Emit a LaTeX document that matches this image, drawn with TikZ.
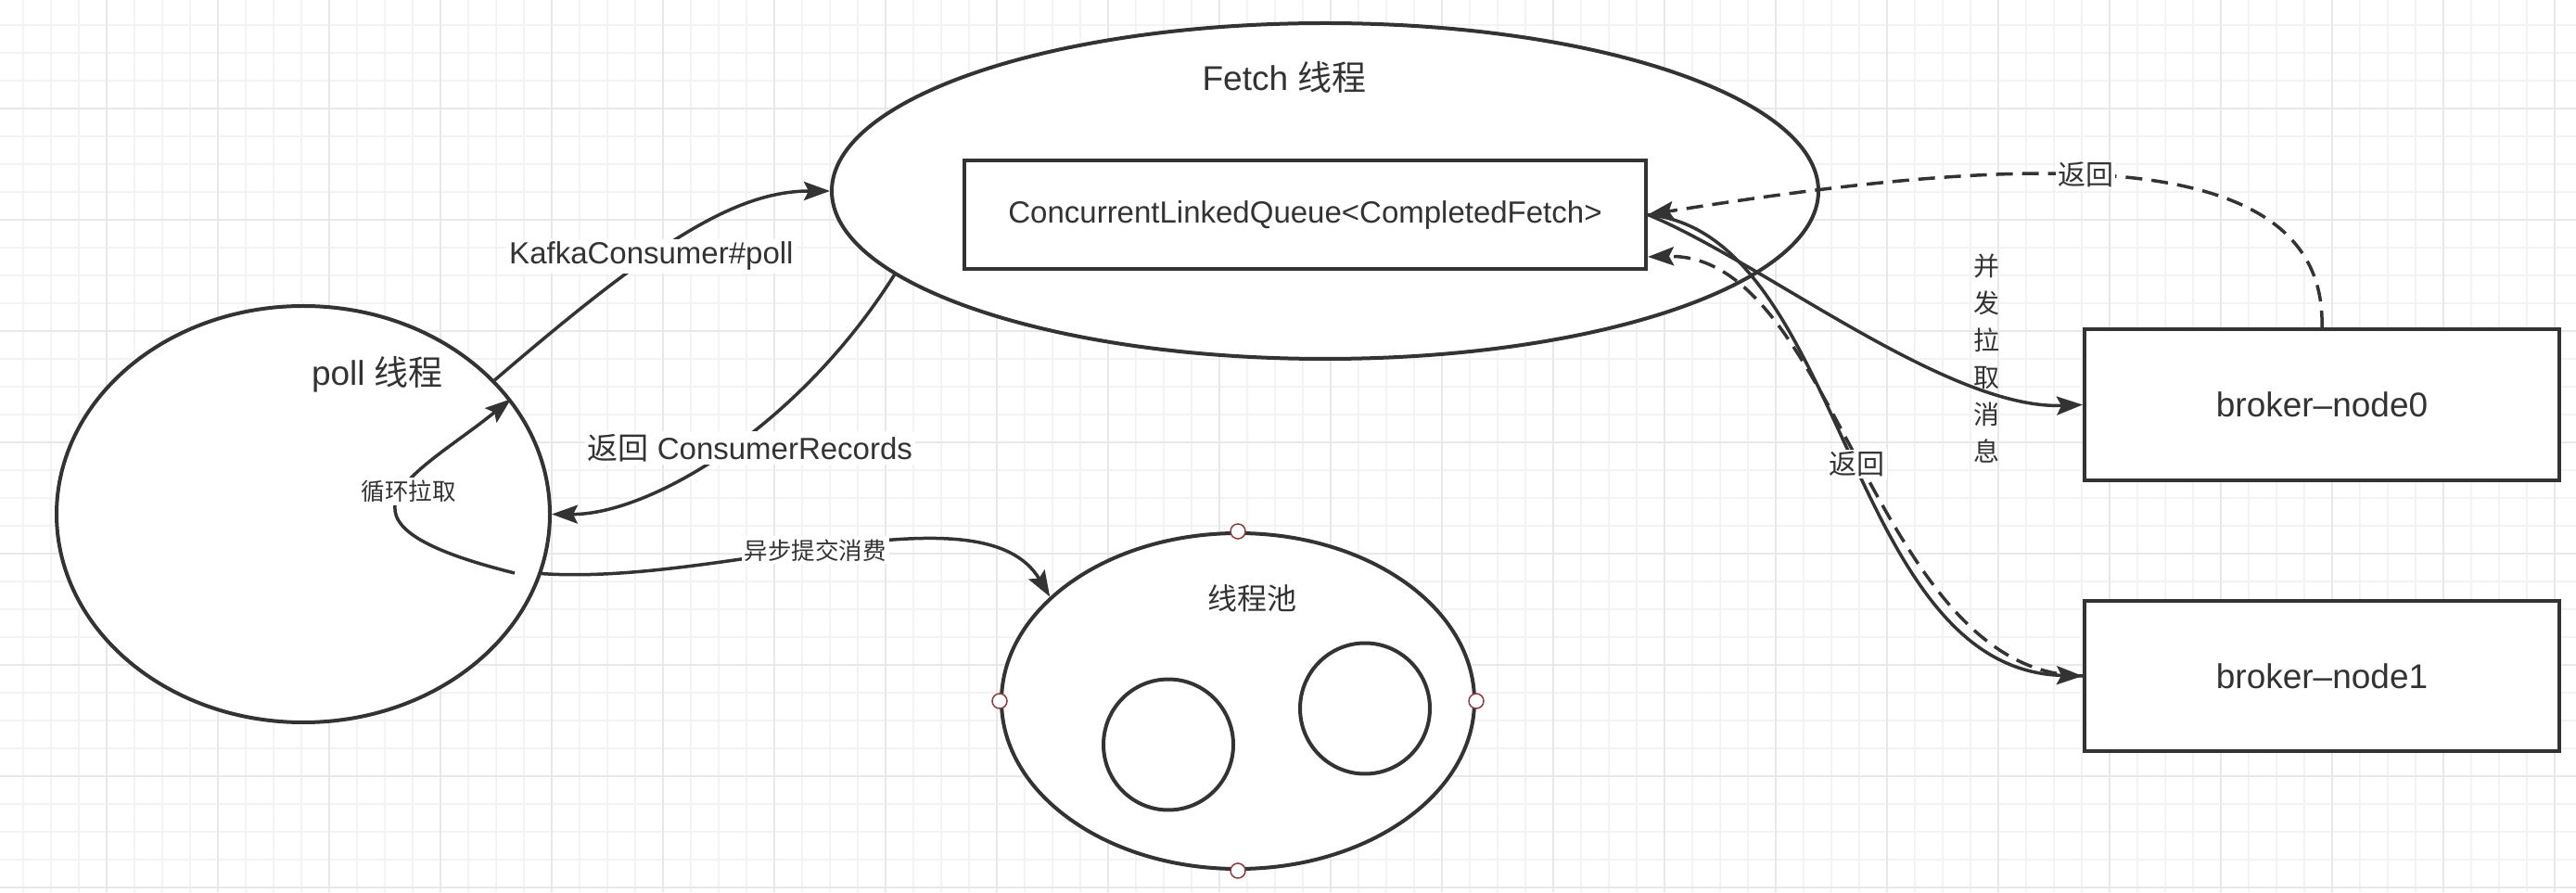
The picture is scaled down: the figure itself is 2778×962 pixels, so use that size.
\documentclass[tikz,border=0pt]{standalone}
\usepackage{fontspec}
\setmainfont{Liberation Sans}
\newfontfamily\cjk{Noto Sans CJK SC}
\usetikzlibrary{arrows.meta, positioning, shapes.geometric}
\definecolor{ink}{HTML}{333333}
\definecolor{gridMinor}{HTML}{F3F3F3}
\definecolor{gridMajor}{HTML}{E8E8E8}
\definecolor{grip}{HTML}{8E3B3B}
\tikzset{
  thread/.style={ellipse, draw=ink, fill=white, line width=4pt, inner sep=0pt},
  box/.style={rectangle, draw=ink, fill=white, line width=4pt,
              inner sep=0pt, text=ink},
  worker/.style={ellipse, draw=ink, fill=white, line width=4pt,
                 inner sep=0pt, minimum width=140pt, minimum height=141pt},
  handle/.style={circle, draw=grip, fill=white, line width=1.5pt,
                 inner sep=0pt, minimum size=16pt},
  title/.style={text=ink, font=\fontsize{37}{44}\selectfont},
  lbl/.style={fill=white, text=ink, inner sep=3pt,
              font=\fontsize{33}{40}\selectfont},
  smallLbl/.style={fill=white, text=ink, inner sep=3pt,
                   font=\fontsize{25.5}{30}\selectfont\cjk},
  retLbl/.style={fill=white, text=ink, inner sep=2pt,
                 font=\fontsize{30}{36}\selectfont\cjk},
  flow/.style={draw=ink, line width=3.5pt,
               -{Stealth[length=28pt, width=20pt, inset=5pt]}},
  reply/.style={flow, dash pattern=on 18pt off 10pt},
}

\begin{document}
\begin{tikzpicture}[x=1pt, y=1pt]
    %% canvas and grid
    \useasboundingbox (0,0) rectangle (2778,962);
    \fill[white] (0,0) rectangle (2778,962);
    \draw[gridMinor, line width=2pt, shift={(25,5)}]
          (-25,-5) grid[step=30pt] (2753,957);
    \draw[gridMajor, line width=2.5pt, shift={(115,5)}]
          (-115,-5) grid[step=120pt] (2663,957);

    %% threads
    \node[thread, minimum width=532pt, minimum height=449pt] (poll) at (327,407.5) {};
    \node[title] (pollT) at (407,558) {poll {\cjk 线程}};

    \node[thread, minimum width=1064pt, minimum height=362pt] (fetch) at (1429,756) {};
    \node[title] (fetchT) at (1385,879) {Fetch {\cjk 线程}};
    \node[box, minimum width=735pt, minimum height=117pt,
          font=\fontsize{33}{40}\selectfont] (queue) at (1407.5,730.5)
          {ConcurrentLinkedQueue<CompletedFetch>};

    %% thread pool
    \node[thread, minimum width=510pt, minimum height=362pt] (pool) at (1335,206) {};
    \node[text=ink, font=\fontsize{32}{38}\selectfont\cjk] (poolT) at (1350,317) {线程池};
    \node[worker] (w1) at (1260,159) {};
    \node[worker] (w2) at (1472,198) {};
    \node[handle] (hN) at (pool.north) {};
    \node[handle] (hW) at (pool.west) {};
    \node[handle] (hE) at (pool.east) {};
    \node[handle] (hS) at (pool.south) {};

    %% brokers
    \node[box, minimum width=512pt, minimum height=163pt,
          font=\fontsize{37}{44}\selectfont] (node0) at (2504,525.5) {broker--node0};
    \node[box, minimum width=512pt, minimum height=162pt,
          font=\fontsize{37}{44}\selectfont] (node1) at (2504,233) {broker--node1};

    %% poll side
    \coordinate (loopS) at (555,344);
    \draw[flow] (poll.35) .. controls (700,695) and (790,756) .. (fetch.west)
          node[lbl, pos=0.4] {KafkaConsumer\#poll};
    \draw[flow] (fetch.191) .. controls (860,500) and (700,407) .. (poll.east)
          node[lbl, pos=0.46, xshift=13pt, yshift=-6pt] {{\cjk 返回} ConsumerRecords};
    \draw[flow] (loopS) .. controls (330,400) and (450,450) .. (poll.29)
          node[smallLbl, pos=0.52, xshift=8pt] {循环拉取};
    \draw[flow] (poll.-14) .. controls (780,330) and (1060,440) .. (pool.151)
          node[smallLbl, pos=0.46] {异步提交消费};

    %% fetch side
    \draw[flow] (queue.east) .. controls (1900,680) and (2100,520) .. (node0.west);
    \draw[flow] (queue.east) .. controls (1990,710) and (1990,240) .. (node1.west);
    \draw[reply] (node1.west) .. controls (2020,235) and (1980,690)
          .. ([yshift=15pt]queue.south east) node[retLbl, pos=0.5] {返回};
    \draw[reply] (node0.north) .. controls (2510,820) and (2150,790) .. (queue.east)
          node[retLbl, pos=0.54] {返回};
    \node[text=ink, align=center, font=\fontsize{28}{40}\selectfont\cjk]
          (pullLbl) at (2142,575) {并\\发\\拉\\取\\消\\息};
\end{tikzpicture}
\end{document}
